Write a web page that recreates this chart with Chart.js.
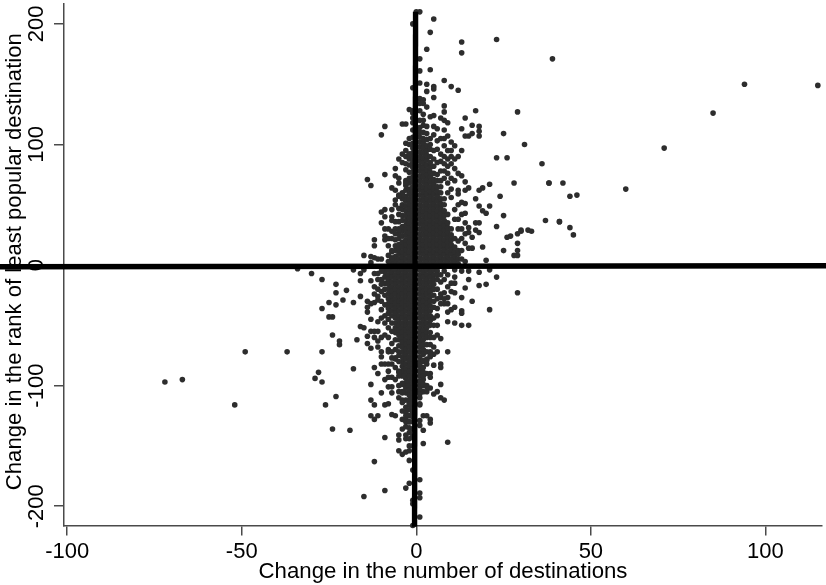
<!DOCTYPE html>
<html>
<head>
<meta charset="utf-8">
<title>Destinations scatter</title>
<script src="https://cdn.jsdelivr.net/npm/chart.js@4"></script>
<style>
  html, body { margin: 0; padding: 0; background: #fff; }
  canvas { display: block; }
</style>
</head>
<body>
<canvas id="scatterChart" width="826" height="585"></canvas>
<script>
const xTicks = [-100, -50, 0, 50, 100];
const yTicks = [-200, -100, 0, 100, 200];
const xTitle = 'Change in the number of destinations';
const yTitle = 'Change in the rank of least popular destination';

// the solid part of the cloud, one list of y values per x column
const coreX = [-9, -8, -7, -6, -5, -4, -3, -2, -1, 1, 2, 3, 4, 5, 6, 7, 8, 9, 10, 11, 12];
const coreY = [
  [-2, -6, -10, -15, -20],
  [-1, -4, -8, -12, -16, -20, -24, -28, -32, -36, -40],
  [2, 6, 11, -2, -6, -10, -14, -18, -22, -26, -30, -34, -38, -42, -48],
  [3, 7, 12, 16, 21, -1, -4, -8, -12, -16, -20, -24, -28, -32, -36, -40, -44, -48, -52, -56, -62],
  [1, 5, 9, 13, 17, 22, 26, 30, 36, 42, 47, -2, -6, -10, -14, -18, -22, -26, -30, -34, -38, -42, -46, -50, -54, -58, -62, -67, -72],
  [3, 7, 11, 15, 19, 24, 28, 32, 37, 41, 46, 50, 55, 60, -1, -4, -8, -12, -16, -20, -24, -28, -32, -36, -40, -44, -48, -52, -56, -60, -64, -68, -72, -76, -80, -84, -88],
  [1, 5, 9, 13, 17, 21, 25, 29, 33, 37, 41, 45, 49, 53, 57, 62, 66, 70, -2, -6, -10, -14, -18, -22, -26, -30, -34, -38, -42, -46, -50, -54, -58, -62, -66, -70, -74, -78, -82, -86, -90, -94, -98, -102, -106, -112],
  [3, 7, 11, 15, 19, 23, 27, 31, 35, 39, 43, 47, 51, 55, 59, 63, 68, 72, 77, 83, 88, 92, -1, -4, -8, -12, -16, -20, -24, -28, -32, -36, -40, -44, -48, -52, -56, -60, -64, -68, -72, -76, -80, -84, -88, -92, -96, -100, -104, -108, -112, -116, -120, -125, -130, -135],
  [1, 5, 9, 13, 17, 21, 25, 29, 33, 37, 41, 45, 49, 53, 57, 61, 65, 69, 73, 77, 81, 85, 89, 93, 97, 101, 106, 112, 118, 122, 128, -2, -6, -10, -14, -18, -22, -26, -30, -34, -38, -42, -46, -50, -54, -58, -62, -66, -70, -74, -78, -82, -86, -90, -94, -98, -102, -106, -110, -114, -118, -122, -126, -130, -136, -142, -150],
  [2, 6, 10, 14, 18, 22, 26, 30, 34, 38, 42, 46, 50, 54, 58, 62, 66, 70, 74, 78, 82, 86, 90, 94, 98, 102, 106, 110, 114, 120, 128, -1, -4, -8, -12, -16, -20, -24, -28, -32, -36, -40, -44, -48, -52, -56, -60, -64, -68, -72, -76, -80, -84, -88, -92, -96, -100, -105],
  [1, 5, 9, 13, 17, 21, 25, 29, 33, 37, 41, 45, 49, 53, 57, 61, 65, 69, 73, 77, 81, 85, 89, 93, 97, 101, 105, 110, 116, 120, 125, -2, -6, -10, -14, -18, -22, -26, -30, -34, -38, -42, -46, -50, -54, -58, -62, -66, -70, -74, -80],
  [3, 7, 11, 15, 19, 23, 27, 31, 35, 39, 43, 47, 51, 55, 59, 63, 67, 71, 75, 79, 83, 87, 91, 95, 99, 104, 109, 115, -1, -4, -8, -12, -16, -20, -24, -28, -32, -36, -40, -44, -48, -52, -56, -60, -66],
  [1, 5, 9, 13, 17, 21, 25, 29, 33, 37, 41, 45, 49, 53, 57, 61, 65, 69, 73, 77, 81, 85, 90, 96, 100, 105, -2, -6, -10, -14, -18, -22, -26, -30, -34, -38, -42, -46, -50, -56],
  [3, 7, 11, 15, 19, 23, 27, 31, 35, 39, 43, 47, 51, 55, 59, 63, 67, 71, 76, 82, 88, 95, -1, -4, -8, -12, -16, -20, -25, -30],
  [1, 5, 9, 13, 17, 21, 25, 29, 33, 37, 41, 45, 49, 53, 57, 61, 65, 70, 75, 85, -2, -5, -8],
  [3, 7, 11, 15, 19, 23, 27, 31, 35, 39, 43, 47, 51, 55, 60, 65, 70, -1],
  [1, 5, 9, 13, 17, 21, 25, 29, 33, 37, 41, 45, 50, 55],
  [3, 7, 11, 15, 19, 23, 27, 31, 35, 42],
  [1, 5, 9, 13, 17, 21, 25, 30],
  [3, 7, 11, 15, 22],
  [1, 5, 9, 12]
];

// points read one by one from the loose edges of the cloud
const upperRight = [
  [1, 210], [5, 204], [4, 193], [13, 185], [23, 187], [13, 176], [3, 179], [39, 171], [1, 171], [1, 161],
  [4, 162], [8, 153], [1, 151], [3, 150], [5, 148], [5, 146], [10, 148], [12, 145], [3, 144], [5, 139],
  [1, 138], [2, 137], [1, 134], [2, 134], [8, 132], [8, 127], [3, 131], [17, 128], [29, 127], [4, 123],
  [5, 124], [14, 122], [7, 122], [8, 120], [9, 118], [16, 116], [18, 115], [18, 111], [18, 107], [16, 109],
  [15, 107], [14, 107], [13, 113], [25, 109], [8, 112], [31, 100], [5, 108], [6, 113], [5, 115], [9, 107],
  [8, 105], [7, 105], [6, 103], [10, 102], [11, 99], [13, 95], [8, 99], [23, 89], [26, 89], [36, 84],
  [12, 90], [10, 95], [9, 95], [10, 90], [10, 84], [11, 88], [9, 82], [9, 76], [10, 72], [9, 68],
  [11, 70], [10, 63], [9, 60], [10, 56], [12, 76], [13, 74], [14, 69], [21, 67], [19, 64], [18, 62],
  [28, 68], [38, 68], [14, 62], [15, 64], [12, 62], [12, 59], [17, 55], [24, 57], [13, 52], [14, 51],
  [12, 50], [11, 46], [13, 42], [12, 38], [14, 43], [11, 38], [18, 49], [21, 49], [19, 45], [20, 43],
  [25, 41], [37, 37], [41, 36], [23, 32], [17, 35], [18, 35], [17, 29], [18, 27], [15, 31], [15, 27],
  [13, 30], [14, 35], [12, 30], [14, 26], [13, 22], [12, 20], [30, 28], [33, 28], [27, 24], [16, 23],
  [29, 18], [19, 15], [25, 12], [29, 12], [28, 8], [15, 14], [16, 14], [14, 18], [13, 12], [20, 4],
  [13, 5], [14, 3], [6, 96], [7, 92], [7, 86], [8, 90], [8, 84], [8, 78], [7, 78], [8, 72], [9, 88], [11, 80]
];
const upperLeft = [
  [0, 210], [-1, 200], [-1, 147], [-2, 129], [-1, 126], [-4, 117], [-3, 117], [-9, 115], [-10, 108], [-2, 105],
  [-3, 101], [-2, 100], [-3, 95], [-4, 92], [-3, 90], [-2, 92], [-5, 88], [-4, 85], [-3, 84], [-3, 79],
  [-6, 80], [-9, 75], [-14, 71], [-13, 66], [-6, 74], [-5, 72], [-7, 64], [-3, 68], [-5, 68], [-6, 62],
  [-5, 58], [-4, 58], [-5, 57], [-6, 54], [-6, 50], [-7, 46], [-10, 44], [-9, 46], [-7, 40], [-9, 40],
  [-7, 37], [-10, 35], [-9, 30], [-8, 30], [-7, 28], [-6, 30], [-6, 26], [-5, 29], [-9, 24], [-9, 21],
  [-8, 22], [-7, 22], [-12, 21], [-12, 16], [-8, 16], [-7, 12], [-8, 8], [-6, 36], [-15, 8], [-13, 7],
  [-12, 6], [-11, 5], [-10, 5], [-7, 5], [-13, 2], [-8, 3]
];
const lowerLeft = [
  [-30, -7], [-27, -12], [-23, -16], [-23, -23], [-20, -21], [-16, -7], [-16, -13], [-18, -4], [-15, -4], [-13, -13],
  [-12, -7], [-11, -7], [-12, -18], [-11, -20], [-12, -24], [-16, -26], [-21, -29], [-25, -31], [-23, -33], [-18, -31],
  [-27, -36], [-14, -30], [-13, -32], [-14, -35], [-14, -39], [-12, -31], [-11, -29], [-25, -43], [-24, -43], [-13, -45],
  [-11, -47], [-16, -51], [-15, -52], [-24, -58], [-13, -55], [-12, -55], [-11, -55], [-14, -59], [-17, -62], [-22, -63],
  [-22, -66], [-14, -65], [-12, -60], [-10, -60], [-11, -63], [-13, -69], [-11, -68], [-27, -72], [-10, -72], [-10, -76],
  [-8, -70], [-8, -72], [-10, -82], [-9, -82], [-8, -82], [-7, -82], [-12, -85], [-18, -86], [-8, -88], [-11, -90],
  [-28, -89], [-29, -94], [-27, -97], [-9, -95], [-8, -93], [-7, -93], [-13, -99], [-7, -101], [-8, -101], [-10, -106],
  [-7, -106], [-23, -109], [-26, -116], [-13, -112], [-12, -116], [-9, -116], [-8, -115], [-5, -110], [-4, -112], [-7, -124],
  [-6, -125], [-13, -125], [-11, -125], [-12, -128], [-4, -121], [-3, -122], [-4, -136], [-24, -136], [-19, -137], [-9, -143],
  [-5, -141], [-5, -145], [-3, -141], [-3, -144], [-2, -139], [-5, -154], [-4, -157], [-3, -155], [-2, -154], [-2, -150],
  [-12, -163], [-2, -162], [-1, -170], [-2, -181], [-3, -185], [-9, -187], [-15, -192], [-1, -195], [-1, -198], [-1, -216],
  [-10, -5], [-10, -12], [-11, -12], [-10, -16], [-10, -22], [-9, -25], [-11, -26], [-10, -30], [-9, -33], [-10, -37],
  [-9, -42], [-8, -45], [-9, -48], [-10, -44], [-8, -52], [-7, -55], [-8, -60], [-7, -65], [-9, -58], [-6, -70],
  [-7, -72], [-6, -78], [-7, -77], [-6, -85], [-5, -80], [-5, -88], [-4, -92], [-5, -92], [-6, -95], [-5, -100],
  [-5, -105], [-4, -105], [-4, -98], [-3, -118], [-3, -128], [-4, -128], [-3, -134], [-2, -144], [-6, -77], [-5, -75],
  [-5, -89], [-4, -99], [-4, -106], [-2, -115], [-4, -114], [-3, -125], [-2, -125], [-3, -130], [-2, -130]
];
const lowerRight = [
  [2, -148], [9, -147], [1, -178], [1, -189], [1, -193], [1, -209], [1, -116], [2, -125], [3, -125], [4, -128],
  [4, -131], [1, -129], [1, -133], [2, -137], [8, -112], [7, -110], [5, -107], [6, -105], [3, -100], [4, -102],
  [7, -99], [2, -105], [3, -105], [4, -90], [4, -93], [7, -82], [7, -85], [5, -83], [9, -72], [6, -72],
  [5, -68], [7, -61], [6, -58], [4, -76], [5, -74], [9, -47], [11, -48], [13, -50], [15, -50], [13, -38],
  [13, -40], [21, -37], [29, -23], [16, -30], [13, -27], [11, -23], [14, -19], [18, -17], [20, -16], [15, -12],
  [23, -10], [11, -10], [11, -15], [10, -15], [9, -18], [8, -23], [7, -27], [9, -27], [8, -32], [9, -32],
  [10, -37], [11, -35], [9, -39], [18, -6], [21, -4], [15, -5], [13, -5], [11, -4], [6, -12], [7, -8],
  [8, -5], [7, -14], [8, -12], [9, -8], [6, -20], [7, -24], [8, -28], [6, -28], [7, -32], [6, -36],
  [10, -22], [5, -35], [6, -42], [5, -44], [5, -50], [6, -50], [4, -60], [5, -60], [4, -66], [3, -72],
  [4, -72], [3, -78], [2, -85], [3, -82], [2, -90], [2, -95], [3, -90], [1, -110], [2, -100], [1, -115],
  [1, -82], [2, -79], [3, -79], [4, -75], [1, -88], [2, -89], [2, -92], [1, -97], [2, -99], [3, -101],
  [1, -103], [1, -107]
];
const farPoints = [
  [115, 149], [94, 150], [85, 126], [71, 97], [60, 63], [46, 58], [44, 57], [42, 68], [38, 68], [41, 36],
  [44, 31], [45, 25], [32, 29], [30, 29], [29, 26], [26, 23], [29, 8], [-72, -97], [-67, -95], [-52, -116],
  [-49, -72], [-37, -72], [-34, -3]
];

// the two thick reference lines, slightly off the zero as in the original
const vLineX = [-0.2, -0.5];
const vLineY = [210, -217];
const hLineX = [-119.4, 117.5];
const hLineY = [-1.4, -0.6];

const corePoints = [];
coreX.forEach((x, i) => coreY[i].forEach(y => corePoints.push({ x: x, y: y })));
const loosePoints = [...upperRight, ...upperLeft, ...lowerLeft, ...lowerRight, ...farPoints]
  .map(p => ({ x: p[0], y: p[1] }));

const axisColor = '#4a4a4a';
const fontFamily = '"Liberation Sans", Arial, sans-serif';

new Chart(document.getElementById('scatterChart').getContext('2d'), {
  type: 'scatter',
  data: {
    datasets: [
      {
        data: hLineX.map((x, i) => ({ x: x, y: hLineY[i] })),
        showLine: true, borderColor: '#000', borderWidth: 5.5, pointRadius: 0, clip: false, order: 0
      },
      {
        data: vLineX.map((x, i) => ({ x: x, y: vLineY[i] })),
        showLine: true, borderColor: '#000', borderWidth: 5.4, pointRadius: 0, clip: false, order: 0
      },
      {
        data: corePoints.concat(loosePoints),
        backgroundColor: '#2d2d2d', borderWidth: 0, pointRadius: 2.8, clip: false, order: 1
      }
    ]
  },
  options: {
    responsive: false,
    animation: false,
    layout: { padding: { top: 2, right: 4, left: 0, bottom: 0 } },
    plugins: { legend: { display: false }, tooltip: { enabled: false } },
    scales: {
      x: {
        type: 'linear',
        min: -100.9,
        max: 116.2,
        afterFit: axis => { axis.height = 59.5; axis.paddingLeft = 0; axis.paddingRight = 0; },
        afterBuildTicks: axis => { axis.ticks = xTicks.map(v => ({ value: v })); },
        border: { display: true, color: axisColor, width: 1.5 },
        grid: { drawOnChartArea: false, drawTicks: true, tickLength: 10, color: axisColor, lineWidth: 1.5 },
        ticks: {
          autoSkip: false, maxRotation: 0, minRotation: 0, padding: 3,
          color: '#000', font: { family: fontFamily, size: 22 }
        },
        title: {
          display: true, text: xTitle, color: '#000',
          font: { family: fontFamily, size: 22.2 }, padding: { top: -3, bottom: 0 }
        }
      },
      y: {
        type: 'linear',
        min: -216,
        max: 216.5,
        afterFit: axis => { axis.width = 64; axis.paddingTop = 0; axis.paddingBottom = 0; },
        afterBuildTicks: axis => { axis.ticks = yTicks.map(v => ({ value: v })); },
        border: { display: true, color: axisColor, width: 1.5 },
        grid: { drawOnChartArea: false, drawTicks: true, tickLength: 10, color: axisColor, lineWidth: 1.5 },
        ticks: {
          autoSkip: false, minRotation: 90, maxRotation: 90, crossAlign: 'center', padding: -5,
          color: '#000', font: { family: fontFamily, size: 22 }
        },
        title: {
          // leading space nudges the centred title up to where the original sits
          display: true, text: ' ' + yTitle, color: '#000',
          font: { family: fontFamily, size: 22.1 }, padding: { top: 1.5, bottom: 0 }
        }
      }
    }
  }
});
</script>
</body>
</html>
